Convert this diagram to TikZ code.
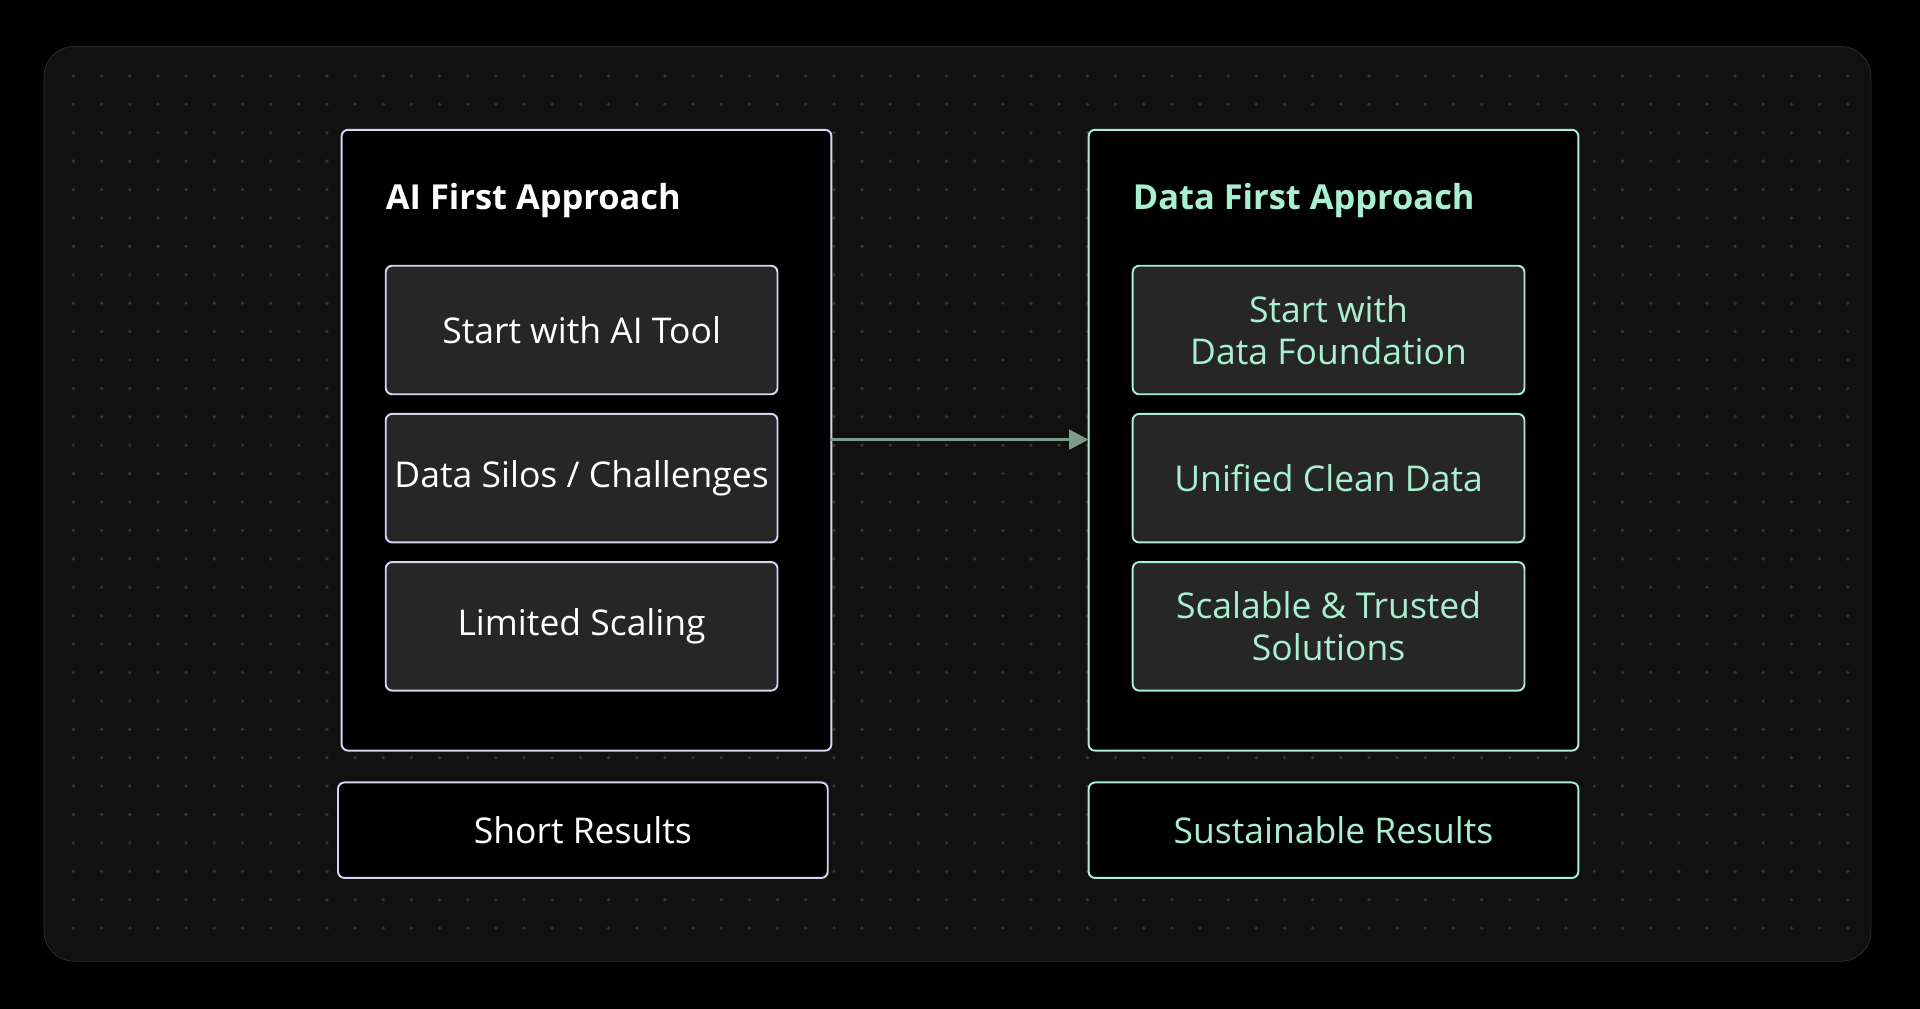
\documentclass[tikz,border=0pt]{standalone}
\usepackage{fontspec}
\setmainfont{Open Sans}
\usetikzlibrary{arrows.meta}
\definecolor{panelbg}{HTML}{111111}
\definecolor{panelline}{HTML}{2A2A2A}
\definecolor{dotc}{HTML}{333333}
\definecolor{cardbg}{HTML}{262626}
\definecolor{lav}{HTML}{D9D3F2}
\definecolor{mint}{HTML}{A9EFD2}
\definecolor{arrowc}{HTML}{7E9C8C}
\tikzset{
	frame/.style={draw=#1, line width=0.9pt, rounded corners=3pt, fill=black},
	card/.style={draw=#1, line width=0.9pt, rounded corners=3pt, fill=cardbg, minimum width=6.4cm, minimum height=2.1cm, align=center, font=\fontsize{16.5}{19.5}\selectfont},
	result/.style={draw=#1, line width=0.9pt, rounded corners=3pt, fill=black, minimum width=8cm, minimum height=1.56cm, font=\fontsize{16.5}{19.5}\selectfont},
	heading/.style={anchor=west, font=\fontsize{16}{19}\selectfont\bfseries}
}
\begin{document}
\begin{tikzpicture}[x=0.02cm, y=-0.02cm]
	\fill[black] (0,0) rectangle (1568,824);
	\filldraw[fill=panelbg, draw=panelline, rounded corners=14pt] (36,38) rectangle (1528,785);
	\foreach \i in {0,...,63}{
		\foreach \j in {0,...,30}{
			\fill[dotc] (60+23*\i,62+23.2*\j) circle (0.9pt);
		}
	}
	% left approach
	\draw[frame=lav] (279,106) rectangle (679,613);
	\node[heading, text=white] (ai-title) at (309,164) {AI First Approach};
	\node[card=lav, text=white] (ai-tool) at (475,269.5) {Start with AI Tool};
	\node[card=lav, text=white] (ai-silos) at (475,390.5) {Data Silos / Challenges};
	\node[card=lav, text=white] (ai-scaling) at (475,511.5) {Limited Scaling};
	\node[result=lav, text=white] (ai-result) at (476,678) {Short Results};
	% right approach
	\draw[frame=mint] (889,106) rectangle (1289,613);
	\node[heading, text=mint] (data-title) at (919,164) {Data First Approach};
	\node[card=mint, text=mint] (data-found) at (1085,269.5) {Start with\\Data Foundation};
	\node[card=mint, text=mint] (data-clean) at (1085,390.5) {Unified Clean Data};
	\node[card=mint, text=mint] (data-scale) at (1085,511.5) {Scalable \& Trusted\\Solutions};
	\node[result=mint, text=mint] (data-result) at (1089,678) {Sustainable Results};
	% connector
	\coordinate (ai-edge) at (679,359);
	\coordinate (data-edge) at (889,359);
	\draw[-{Triangle[length=9pt,width=9pt]}, arrowc, line width=1.6pt] (ai-edge) -- (data-edge);
\end{tikzpicture}
\end{document}
